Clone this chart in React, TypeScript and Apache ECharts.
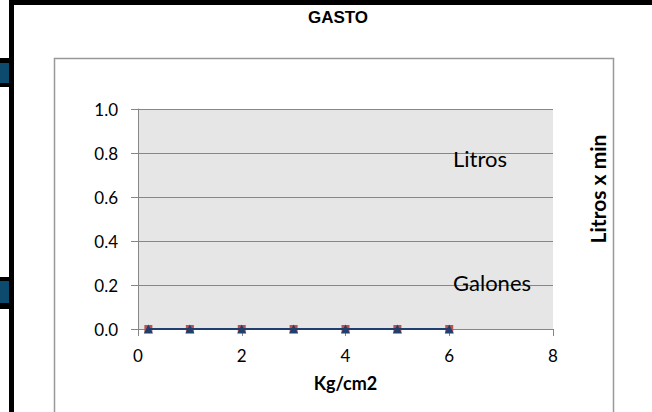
import React, { useEffect, useRef } from "react";
import * as echarts from "echarts";

const xValues = [0.2, 1, 2, 3, 4, 5, 6];
const litros = [0, 0, 0, 0, 0, 0, 0];
const galones = [0, 0, 0, 0, 0, 0, 0];
const seriesNames = ["Litros", "Galones"];
const title = "GASTO";
const xName = "Kg/cm2";
const yName = "Litros x min";

export default function App() {
  const ref = useRef<HTMLDivElement>(null);
  useEffect(() => {
    document.body.style.margin = "0";
    const chart = echarts.init(ref.current!, undefined, { renderer: "svg" });
    const font = "Lato";
    chart.setOption({
      animation: false,
      backgroundColor: "#ffffff",
      title: {
        text: title,
        left: 338,
        top: 9,
        padding: 0,
        textAlign: "center",
        textStyle: { fontFamily: "Liberation Sans", fontWeight: "bold", fontSize: 17, color: "#000" },
      },
      legend: {
        orient: "vertical",
        left: 448,
        top: 146,
        padding: 0,
        icon: "none",
        itemWidth: 0,
        itemHeight: 12,
        itemGap: 100,
        data: seriesNames,
        textStyle: { fontFamily: font, fontSize: 22, color: "#000", lineHeight: 24, padding: 0 },
        selectedMode: false,
      },
      graphic: [
        { type: "rect", shape: { x: 9, y: 0, width: 5, height: 412 }, style: { fill: "#000" } },
        { type: "rect", shape: { x: 9, y: 0, width: 643, height: 5 }, style: { fill: "#000" } },
        { type: "rect", shape: { x: 0, y: 58, width: 14, height: 29 }, style: { fill: "#000" } },
        { type: "rect", shape: { x: 0, y: 63, width: 9, height: 20 }, style: { fill: "#0c4a6e" } },
        { type: "rect", shape: { x: 0, y: 277, width: 14, height: 32 }, style: { fill: "#000" } },
        { type: "rect", shape: { x: 0, y: 281, width: 9, height: 22 }, style: { fill: "#0c4a6e" } },
        {
          type: "rect",
          shape: { x: 54.5, y: 58.5, width: 559, height: 400 },
          style: { fill: "none", stroke: "#999999", lineWidth: 1.5 },
        },
        {
          type: "text",
          x: 597,
          y: 189,
          rotation: Math.PI / 2,
          style: {
            text: yName,
            fontFamily: font,
            fontWeight: "bold",
            fontSize: 21,
            fill: "#000",
            align: "center",
            verticalAlign: "middle",
          },
        },
      ],
      grid: {
        left: 138,
        top: 109,
        width: 415,
        height: 220,
        show: true,
        backgroundColor: "#e6e6e6",
        borderWidth: 0,
      },
      xAxis: {
        type: "value",
        min: 0,
        max: 8,
        interval: 2,
        name: xName,
        nameLocation: "middle",
        nameGap: 45,
        nameTextStyle: { fontFamily: font, fontWeight: "bold", fontSize: 18, color: "#000" },
        axisLine: { show: true, onZero: false, lineStyle: { color: "#868686", width: 1 } },
        axisTick: { show: true, length: 7, lineStyle: { color: "#868686" } },
        axisLabel: { margin: 18, fontFamily: font, fontSize: 17, color: "#000" },
        splitLine: { show: false },
      },
      yAxis: {
        type: "value",
        min: 0,
        max: 1,
        interval: 0.2,
        axisLine: { show: true, lineStyle: { color: "#868686", width: 1 } },
        axisTick: { show: true, length: 7, lineStyle: { color: "#868686" } },
        axisLabel: {
          margin: 20,
          fontFamily: font,
          fontSize: 17,
          color: "#000",
          formatter: (v: number) => v.toFixed(1),
        },
        splitLine: { show: true, lineStyle: { color: "#868686", width: 1 } },
      },
      series: [
        {
          name: seriesNames[1],
          type: "line",
          data: xValues.map((x, i) => [x, galones[i]]),
          symbol: "rect",
          symbolSize: 8,
          itemStyle: { color: "#c0504d" },
          lineStyle: { color: "#c0504d", width: 2 },
          z: 2,
        },
        {
          name: seriesNames[0],
          type: "line",
          data: xValues.map((x, i) => [x, litros[i]]),
          symbol: "triangle",
          symbolSize: 9,
          itemStyle: { color: "#1f3f6e" },
          lineStyle: { color: "#1f3f6e", width: 2 },
          z: 3,
        },
      ],
    });
    return () => chart.dispose();
  }, []);
  return <div ref={ref} style={{ width: 652, height: 412, position: "absolute", left: 0, top: 0 }} />;
}
